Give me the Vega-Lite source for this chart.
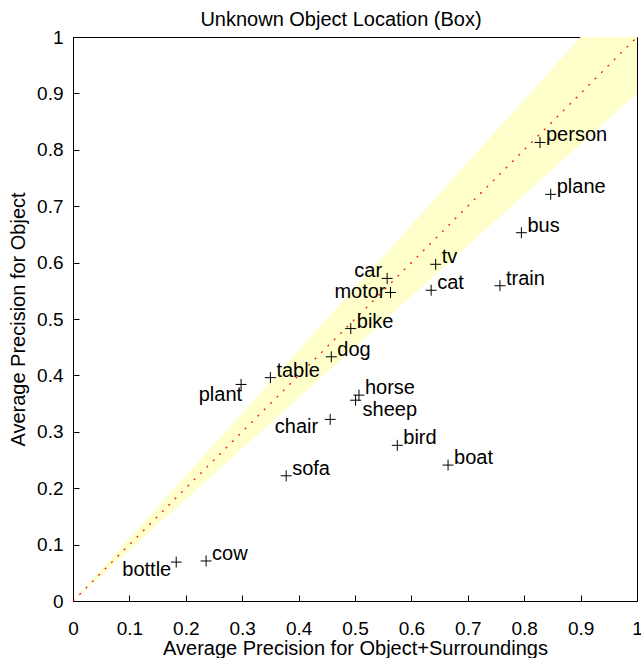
{
  "$schema": "https://vega.github.io/schema/vega-lite/v6.json",
  "width": 564,
  "height": 564,
  "autosize": {"type": "none"},
  "padding": {"left": 73, "top": 37, "right": 4, "bottom": 57},
  "background": "white",
  "title": {
    "text": "Unknown Object Location (Box)",
    "font": "Liberation Sans",
    "fontSize": 20,
    "fontWeight": "normal",
    "color": "black",
    "dx": -14,
    "offset": -2
  },
  "config": {
    "font": "Liberation Sans",
    "view": {"stroke": "black", "strokeWidth": 1},
    "axis": {
      "grid": false,
      "domainColor": "black",
      "domainWidth": 1,
      "tickColor": "black",
      "tickSize": -6,
      "labelColor": "black",
      "labelFont": "Liberation Sans",
      "labelFontSize": 19,
      "labelFlush": false,
      "labelOverlap": false,
      "labelBound": false,
      "titleColor": "black",
      "titleFont": "Liberation Sans",
      "titleFontSize": 20,
      "titleFontWeight": "normal"
    },
    "axisX": {"labelPadding": 24, "titlePadding": 0},
    "axisY": {"labelPadding": 16, "titlePadding": 8}
  },
  "datasets": {
    "classes": [
      {"name": "person", "x": 0.828, "y": 0.813},
      {"name": "plane", "x": 0.847, "y": 0.721},
      {"name": "bus", "x": 0.795, "y": 0.653},
      {"name": "tv", "x": 0.643, "y": 0.597},
      {"name": "car", "x": 0.557, "y": 0.572},
      {"name": "motor", "x": 0.563, "y": 0.547},
      {"name": "cat", "x": 0.635, "y": 0.551},
      {"name": "train", "x": 0.757, "y": 0.559},
      {"name": "bike", "x": 0.4925, "y": 0.483},
      {"name": "dog", "x": 0.458, "y": 0.433},
      {"name": "table", "x": 0.35, "y": 0.396},
      {"name": "plant", "x": 0.298, "y": 0.384},
      {"name": "horse", "x": 0.507, "y": 0.365},
      {"name": "sheep", "x": 0.501, "y": 0.356},
      {"name": "chair", "x": 0.456, "y": 0.322},
      {"name": "bird", "x": 0.575, "y": 0.276},
      {"name": "boat", "x": 0.665, "y": 0.241},
      {"name": "sofa", "x": 0.378, "y": 0.222},
      {"name": "bottle", "x": 0.183, "y": 0.069},
      {"name": "cow", "x": 0.236, "y": 0.071}
    ],
    "band": [
      {"x": 0, "lo": 0, "hi": 0},
      {"x": 1, "lo": 0.9, "hi": 1.1111}
    ],
    "diagonal": [
      {"x": 0, "y": 0},
      {"x": 1, "y": 1}
    ]
  },
  "encoding": {
    "x": {
      "field": "x",
      "type": "quantitative",
      "title": "Average Precision for Object+Surroundings",
      "scale": {"domain": [0, 1], "nice": false},
      "axis": {"values": [0, 0.1, 0.2, 0.3, 0.4, 0.5, 0.6, 0.7, 0.8, 0.9, 1], "format": "~g"}
    },
    "y": {
      "field": "y",
      "type": "quantitative",
      "title": "Average Precision for Object",
      "scale": {"domain": [0, 1], "nice": false},
      "axis": {"values": [0, 0.1, 0.2, 0.3, 0.4, 0.5, 0.6, 0.7, 0.8, 0.9, 1], "format": "~g"}
    }
  },
  "layer": [
    {
      "data": {"name": "band"},
      "mark": {"type": "area", "color": "#ffffcc", "clip": true, "opacity": 1},
      "encoding": {
        "y": {
          "field": "hi",
          "type": "quantitative",
          "title": "Average Precision for Object",
          "axis": {"values": [0, 0.1, 0.2, 0.3, 0.4, 0.5, 0.6, 0.7, 0.8, 0.9, 1], "format": "~g"}
        },
        "y2": {"field": "lo"}
      }
    },
    {
      "data": {"name": "diagonal"},
      "mark": {"type": "line", "color": "#ff0000", "strokeWidth": 1.2, "strokeDash": [2, 7]}
    },
    {
      "data": {"name": "classes"},
      "mark": {"type": "point", "shape": "M-1,0H1M0,-1V1", "size": 121, "filled": false, "stroke": "black", "strokeWidth": 1, "opacity": 1}
    },
    {
      "data": {"name": "classes"},
      "transform": [{"filter": {"field": "name", "oneOf": ["person", "plane", "bus", "tv", "cat", "train", "bike", "dog", "table", "sofa", "horse", "bird", "boat", "cow"]}}],
      "mark": {"type": "text", "align": "left", "baseline": "alphabetic", "dx": 6, "dy": -1, "fontSize": 20, "color": "black"},
      "encoding": {"text": {"field": "name"}}
    },
    {
      "data": {"name": "classes"},
      "transform": [{"filter": {"field": "name", "equal": "car"}}],
      "mark": {"type": "text", "align": "right", "baseline": "alphabetic", "dx": -5, "dy": -1, "fontSize": 20, "color": "black"},
      "encoding": {"text": {"field": "name"}}
    },
    {
      "data": {"name": "classes"},
      "transform": [{"filter": {"field": "name", "equal": "motor"}}],
      "mark": {"type": "text", "align": "right", "baseline": "alphabetic", "dx": -5, "dy": 6, "fontSize": 20, "color": "black"},
      "encoding": {"text": {"field": "name"}}
    },
    {
      "data": {"name": "classes"},
      "transform": [{"filter": {"field": "name", "equal": "plant"}}],
      "mark": {"type": "text", "align": "right", "baseline": "alphabetic", "dx": 1, "dy": 17, "fontSize": 20, "color": "black"},
      "encoding": {"text": {"field": "name"}}
    },
    {
      "data": {"name": "classes"},
      "transform": [{"filter": {"field": "name", "equal": "chair"}}],
      "mark": {"type": "text", "align": "right", "baseline": "alphabetic", "dx": -12, "dy": 14, "fontSize": 20, "color": "black"},
      "encoding": {"text": {"field": "name"}}
    },
    {
      "data": {"name": "classes"},
      "transform": [{"filter": {"field": "name", "equal": "bottle"}}],
      "mark": {"type": "text", "align": "right", "baseline": "alphabetic", "dx": -5, "dy": 14, "fontSize": 20, "color": "black"},
      "encoding": {"text": {"field": "name"}}
    },
    {
      "data": {"name": "classes"},
      "transform": [{"filter": {"field": "name", "equal": "sheep"}}],
      "mark": {"type": "text", "align": "left", "baseline": "alphabetic", "dx": 7, "dy": 16, "fontSize": 20, "color": "black"},
      "encoding": {"text": {"field": "name"}}
    }
  ]
}
